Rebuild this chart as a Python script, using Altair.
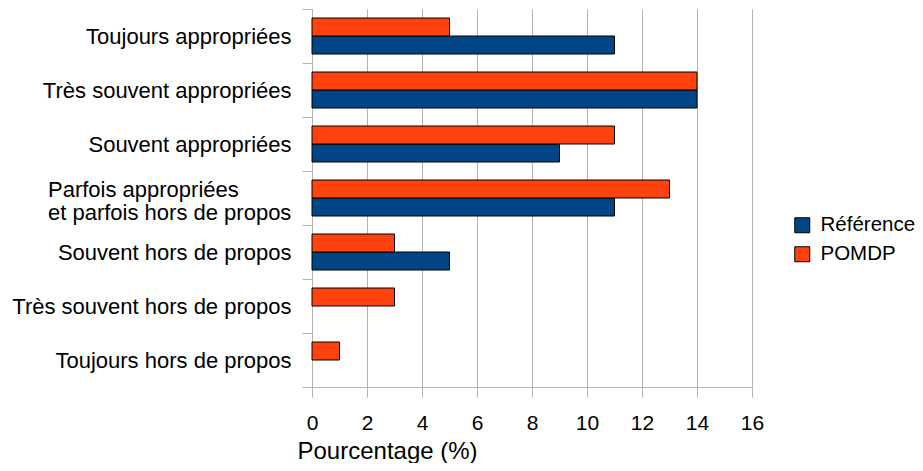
import altair as alt
import pandas as pd

categories = [
    "Toujours appropriées",
    "Très souvent appropriées",
    "Souvent appropriées",
    "Parfois appropriées\net parfois hors de propos",
    "Souvent hors de propos",
    "Très souvent hors de propos",
    "Toujours hors de propos",
]
series = ["Référence", "POMDP"]
reference_vals = [11, 14, 9, 11, 5, 0, 0]
pomdp_vals = [5, 14, 11, 13, 3, 3, 1]
x_ticks = [0, 2, 4, 6, 8, 10, 12, 14, 16]
colors = ["#004586", "#ff420e"]

rows = []
for c, r, p in zip(categories, reference_vals, pomdp_vals):
    rows.append({"cat": c, "series": "Référence", "value": r})
    rows.append({"cat": c, "series": "POMDP", "value": p})
df = pd.DataFrame(rows)

multi_df = pd.DataFrame({"cat": [c for c in categories if "\n" in c]})

GRID = "#b3b3b3"
FONT = "Liberation Sans"

y_enc = alt.Y(
    "cat:N",
    sort=categories,
    scale=alt.Scale(domain=categories, paddingInner=0, paddingOuter=0),
    axis=alt.Axis(
        title=None,
        labelExpr="indexof(datum.label, '\\n') >= 0 ? '' : datum.label",
        labelFontSize=22,
        labelColor="black",
        labelAlign="right",
        labelPadding=11,
        labelLimit=400,
        tickBand="extent",
        tickSize=10,
        tickColor=GRID,
        domainColor=GRID,
        grid=False,
    ),
)

bars = alt.Chart(df).transform_filter("datum.value > 0").mark_bar(
    stroke="black", strokeWidth=1
).encode(
    x=alt.X(
        "value:Q",
        scale=alt.Scale(domain=[0, 16], nice=False, zero=True),
        axis=alt.Axis(
            values=x_ticks,
            title="Pourcentage (%)",
            titleFontSize=24,
            titleFontWeight="normal",
            titleColor="black",
            titleAnchor="start",
            titleAlign="left",
            titleBaseline="alphabetic",
            titleX=-15,
            titleY=71,
            labelFontSize=21,
            labelColor="black",
            labelPadding=15,
            tickSize=10,
            tickColor=GRID,
            domainColor=GRID,
            gridColor=GRID,
            grid=True,
            labelFlush=False,
        ),
    ),
    y=y_enc,
    yOffset=alt.YOffset(
        "series:N",
        sort=["POMDP", "Référence"],
        scale=alt.Scale(domain=["POMDP", "Référence"], paddingInner=0, paddingOuter=0.5),
    ),
    color=alt.Color(
        "series:N",
        scale=alt.Scale(domain=series, range=colors),
        legend=alt.Legend(
            title=None,
            orient="none",
            legendX=480,
            legendY=206,
            symbolType="square",
            symbolSize=225,
            symbolStrokeColor="black",
            symbolStrokeWidth=1,
            symbolOpacity=1,
            labelFontSize=20.5,
            labelColor="black",
            labelOffset=8,
            rowPadding=8,
            padding=0,
        ),
    ),
)

multi_label = alt.Chart(multi_df).mark_text(
    align="left",
    baseline="middle",
    dx=-264,
    dy=-8,
    fontSize=22,
    lineHeight=23,
    lineBreak="\n",
    color="black",
).encode(
    x=alt.datum(0),
    y=alt.Y("cat:N", sort=categories),
    text="cat:N",
)

chart = alt.layer(bars, multi_label).properties(
    width=440,
    height=378,
    autosize=alt.AutoSizeParams(type="none"),
    padding={"left": 304, "top": 1, "right": 163, "bottom": 76},
).configure(
    font=FONT,
).configure_view(
    stroke=None,
)

chart.save("out.html", embed_options={"renderer": "svg", "actions": False})
